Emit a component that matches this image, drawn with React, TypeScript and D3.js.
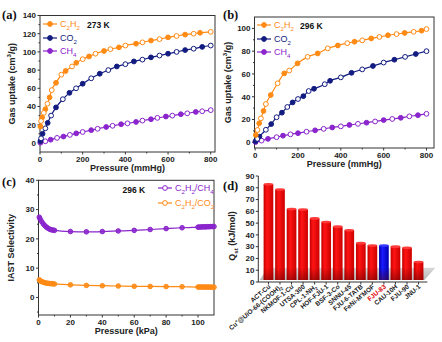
import React from 'react';
import * as d3 from 'd3';

const FONT = "'Liberation Sans', Arial, sans-serif";
const SERIF = "'Liberation Serif', 'Times New Roman', serif";
const ORANGE = '#ff8a14';
const NAVY = '#121c80';
const PURPLE = '#8a24cc';
const AXIS = '#333';

// ---------- Panel (a) 273 K ----------
const a_C2H2_adsP = [2, 10, 25, 45, 75, 120, 170, 230, 300, 370, 450, 520, 600, 680, 750];
const a_C2H2_adsV = [18, 28, 37, 50, 66, 79, 88, 95, 101, 105, 109, 112.5, 116, 119, 121];
const a_C2H2_desP = [5, 18, 35, 55, 100, 150, 200, 260, 330, 400, 480, 560, 640, 720, 800];
const a_C2H2_desV = [24, 33, 43, 58, 75, 84, 92, 98, 103, 107, 110.5, 114, 117.5, 120, 122];
const a_CO2_adsP = [2, 12, 36, 75, 138, 200, 280, 360, 440, 520, 600, 680, 760];
const a_CO2_adsV = [2, 10, 22, 39, 55, 65, 76, 84, 89.5, 94, 98, 102, 105.5];
const a_CO2_desP = [5, 25, 52, 107, 169, 240, 320, 400, 480, 560, 640, 720, 800];
const a_CO2_desV = [5, 16, 30, 48, 60, 71, 80, 86.5, 91.5, 96, 100, 103.5, 107];
const a_CH4_adsP = [2, 50, 110, 170, 240, 310, 380, 450, 520, 590, 660, 730];
const a_CH4_adsV = [0.2, 3.5, 7, 10.5, 14, 17.5, 20.5, 23, 26, 29, 31.5, 34];
const a_CH4_desP = [25, 80, 140, 200, 270, 340, 410, 480, 550, 620, 690, 760, 800];
const a_CH4_desV = [1.8, 5.5, 8.8, 12, 15.5, 18.8, 21.5, 24.5, 27.5, 30, 32.5, 34.8, 36];

// ---------- Panel (b) 296 K ----------
const b_C2H2_adsP = [3, 19, 39, 73, 136, 198, 292, 386, 464, 542, 620, 698, 777];
const b_C2H2_adsV = [6.4, 16.7, 27.5, 41.5, 60.5, 69.3, 78, 85, 88.3, 91.2, 94, 96, 98];
const b_C2H2_desP = [11, 27, 50, 105, 159, 245, 339, 430, 500, 580, 660, 740, 800];
const b_C2H2_desV = [10.8, 21, 33.6, 51.8, 63, 75, 82.5, 87, 89.5, 92.5, 95, 97, 99.4];
const b_CO2_adsP = [2, 20, 75, 125, 175, 225, 275, 350, 450, 550, 650, 750];
const b_CO2_adsV = [1, 5, 16, 26, 35, 40.5, 47, 54, 61, 67, 72.5, 77.5];
const b_CO2_desP = [10, 50, 100, 150, 200, 250, 325, 400, 500, 600, 700, 800];
const b_CO2_desV = [3, 11, 22, 31, 38, 45, 51, 57, 64, 70, 75, 80];
const b_CH4_adsP = [2, 60, 130, 200, 280, 360, 440, 520, 600, 680, 760];
const b_CH4_adsV = [0.2, 3, 5.8, 8, 10.5, 13, 15.2, 17.2, 19.5, 21.5, 23.8];
const b_CH4_desP = [30, 100, 165, 240, 320, 400, 480, 560, 640, 720, 800];
const b_CH4_desV = [1.5, 4.5, 7, 9.3, 11.8, 14, 16.2, 18.3, 20.5, 22.8, 25];

// ---------- Panel (c) IAST ----------
const c_P = [0.5, 1, 2, 3, 4, 5, 6, 7, 8, 9, 10, 20, 30, 40, 50, 60, 70, 80, 90, 100, 101, 102, 103, 104, 105, 106, 107, 108, 109, 110];
const c_CH4 = [27.4, 26.8, 25.9, 25.1, 24.5, 24.0, 23.6, 23.3, 23.1, 23.0, 22.9, 22.5, 22.4, 22.5, 22.7, 22.9, 23.2, 23.5, 23.8, 24.0, 24.05, 24.05, 24.1, 24.1, 24.1, 24.15, 24.15, 24.2, 24.2, 24.2];
const c_CO2 = [6.0, 5.7, 5.4, 5.2, 5.0, 4.9, 4.8, 4.75, 4.7, 4.65, 4.6, 4.3, 4.1, 4.0, 3.9, 3.8, 3.75, 3.7, 3.65, 3.55, 3.55, 3.55, 3.54, 3.54, 3.53, 3.53, 3.52, 3.52, 3.51, 3.5];

// ---------- Panel (d) Qst ----------
const d_names = ['ACT-Cu', 'Cu^+@UiO-66-(COOH)_2', 'NKMOF-1-Cu', 'UTSA-300', 'CPL-1-NH_2', 'HOF-FJU-1', 'BSF-3-Co', 'SNNU-45', 'FJU-6-TATB', "FeNi-M'MOF", 'FJU-83', 'CAU-10H', 'FJU-90', 'JNU-1'];
const d_values = [83, 78.5, 62, 61.5, 54, 51, 47, 44, 33, 31, 31, 30, 29, 17];
const d_highlight = 'FJU-83';

const aTicksX = [0, 200, 400, 600, 800];
const aTicksY = [0, 20, 40, 60, 80, 100, 120, 140];
const bTicksY = [0, 20, 40, 60, 80, 100];
const cTicksX = [0, 20, 40, 60, 80, 100];
const cTicksY = [0, 10, 20, 30, 40];
const dTicksY = [0, 10, 20, 30, 40, 50, 60, 70, 80, 90];

function Rich({ s, fs }: { s: string; fs: number }) {
  const segs: { t: string; m: number }[] = [];
  let buf = '';
  for (let i = 0; i < s.length; i++) {
    const c = s[i];
    if ((c === '_' || c === '^') && i + 1 < s.length) {
      if (buf) segs.push({ t: buf, m: 0 });
      buf = '';
      let t = '';
      if (s[i + 1] === '{') {
        let j = i + 2;
        while (j < s.length && s[j] !== '}') { t += s[j]; j++; }
        i = j;
      } else { t = s[i + 1]; i++; }
      segs.push({ t, m: c === '_' ? 1 : -1 });
    } else buf += c;
  }
  if (buf) segs.push({ t: buf, m: 0 });
  let cur = 0;
  return (
    <>
      {segs.map((g, k) => {
        const target = g.m === 1 ? 0.3 * fs : g.m === -1 ? -0.4 * fs : 0;
        const dy = target - cur;
        cur = target;
        return (
          <tspan key={k} dy={dy !== 0 ? dy : undefined} fontSize={g.m ? fs * 0.68 : undefined}>
            {g.t}
          </tspan>
        );
      })}
    </>
  );
}

function Frame({ x, y, xt, yt, xMinor, yMinor, xTitle, yTitle, yTitleX }: any) {
  const [l, r] = x.range();
  const [b, t] = y.range();
  return (
    <g fontFamily={FONT} fontWeight="bold" fill="#222">
      <rect x={l} y={t} width={r - l} height={b - t} fill="none" stroke={AXIS} strokeWidth={1} />
      {yt.map((v: number) => (
        <g key={'y' + v}>
          <line x1={l - 2.5} x2={l} y1={y(v)} y2={y(v)} stroke={AXIS} />
          <text x={l - 4} y={y(v)} dy="0.35em" textAnchor="end" fontSize={8}>{v}</text>
        </g>
      ))}
      {yMinor.map((v: number) => (
        <line key={'ym' + v} x1={l - 1.5} x2={l} y1={y(v)} y2={y(v)} stroke={AXIS} />
      ))}
      {xt.map((v: number) => (
        <g key={'x' + v}>
          <line x1={x(v)} x2={x(v)} y1={b} y2={b + 2.5} stroke={AXIS} />
          <text x={x(v)} y={b + 10} textAnchor="middle" fontSize={8}>{v}</text>
        </g>
      ))}
      {xMinor.map((v: number) => (
        <line key={'xm' + v} x1={x(v)} x2={x(v)} y1={b} y2={b + 1.5} stroke={AXIS} />
      ))}
      <text x={(l + r) / 2} y={b + 19} textAnchor="middle" fontSize={9}>{xTitle}</text>
      <text transform={`translate(${yTitleX},${(t + b) / 2}) rotate(-90)`} textAnchor="middle" fontSize={9}>
        <Rich s={yTitle} fs={9} />
      </text>
    </g>
  );
}

function Series({ x, y, ap, av, dp, dv, color, r = 2.4 }: any) {
  const pts = ap.map((p: number, i: number) => [p, av[i]]).concat(dp.map((p: number, i: number) => [p, dv[i]]));
  pts.sort((m: number[], n: number[]) => m[0] - n[0]);
  const line = d3.line<number[]>().x((d) => x(d[0])).y((d) => y(d[1])).curve(d3.curveMonotoneX);
  return (
    <g>
      <path d={line(pts) || ''} fill="none" stroke={color} strokeWidth={1.2} />
      {ap.map((p: number, i: number) => (
        <circle key={'a' + i} cx={x(p)} cy={y(av[i])} r={r} fill={color} stroke={color} strokeWidth={1} />
      ))}
      {dp.map((p: number, i: number) => (
        <circle key={'d' + i} cx={x(p)} cy={y(dv[i])} r={r} fill="#fff" stroke={color} strokeWidth={1} />
      ))}
    </g>
  );
}

function LegendItem({ x, y, color, label, half = true }: any) {
  return (
    <g>
      <line x1={x} x2={x + 14} y1={y} y2={y} stroke={color} strokeWidth={1.2} />
      <circle cx={x + 7} cy={y} r={2.4} fill={half ? color : '#fff'} stroke={color} strokeWidth={1} />
      <text x={x + 17} y={y} dy="0.35em" fontSize={9} fill={color} fontFamily={FONT}>
        <Rich s={label} fs={9} />
      </text>
    </g>
  );
}

export default function App() {
  const xA = d3.scaleLinear().domain([0, 820]).range([40, 215]);
  const yA = d3.scaleLinear().domain([-10, 140]).range([152, 15.5]);
  const xB = d3.scaleLinear().domain([-3, 835]).range([254.5, 434]);
  const yB = d3.scaleLinear().domain([-5, 110]).range([148, 17]);
  const xC = d3.scaleLinear().domain([0, 110]).range([38.5, 214]);
  const yC = d3.scaleLinear().domain([-6, 40]).range([315, 180.3]);
  const xD = d3.scaleBand<string>().domain(d_names).range([263.6, 423.4]).paddingInner(0.16);
  const yD = d3.scaleLinear().domain([0, 90]).range([282, 176]);

  const lineC = d3.line<number>().x((_, i) => xC(c_P[i])).y((d) => yC(d)).curve(d3.curveMonotoneX);

  const floorTop = yD(12);
  const floorBot = yD(0) - 2;
  const bw = xD.bandwidth();

  return (
    <svg width={442} height={342} style={{ display: 'block', position: 'absolute', left: 0, top: 0 }} fontFamily={FONT}>
      <defs>
        <linearGradient id="redG" x1="0" x2="1" y1="0" y2="0">
          <stop offset="0%" stopColor="#c40000" />
          <stop offset="35%" stopColor="#ff1414" />
          <stop offset="100%" stopColor="#cc0000" />
        </linearGradient>
        <linearGradient id="blueG" x1="0" x2="1" y1="0" y2="0">
          <stop offset="0%" stopColor="#0000a8" />
          <stop offset="35%" stopColor="#1a1aff" />
          <stop offset="100%" stopColor="#0000b0" />
        </linearGradient>
        <linearGradient id="shade" x1="0" x2="0" y1="0" y2="1">
          <stop offset="0%" stopColor="#500000" stopOpacity={0} />
          <stop offset="100%" stopColor="#500000" stopOpacity={0.45} />
        </linearGradient>
        <linearGradient id="floorG" x1="0" x2="0" y1="0" y2="1">
          <stop offset="0%" stopColor="#d8d8d8" />
          <stop offset="100%" stopColor="#b8b8b8" />
        </linearGradient>
      </defs>
      <rect x={0} y={0} width={442} height={342} fill="#fff" />

      {/* Panel a */}
      <Frame x={xA} y={yA} xt={aTicksX} yt={aTicksY} xMinor={[100, 300, 500, 700]} yMinor={[10, 30, 50, 70, 90, 110, 130]}
        xTitle="Pressure (mmHg)" yTitle="Gas uptake (cm^3/g)" yTitleX={15} />
      <Series x={xA} y={yA} ap={a_CH4_adsP} av={a_CH4_adsV} dp={a_CH4_desP} dv={a_CH4_desV} color={PURPLE} />
      <Series x={xA} y={yA} ap={a_CO2_adsP} av={a_CO2_adsV} dp={a_CO2_desP} dv={a_CO2_desV} color={NAVY} />
      <Series x={xA} y={yA} ap={a_C2H2_adsP} av={a_C2H2_adsV} dp={a_C2H2_desP} dv={a_C2H2_desV} color={ORANGE} />
      <LegendItem x={43} y={24} color={ORANGE} label="C_2H_2" />
      <LegendItem x={43} y={38} color={NAVY} label="CO_2" />
      <LegendItem x={43} y={51} color={PURPLE} label="CH_4" />
      <text x={87} y={27.5} fontSize={8.5} fontWeight="bold" fill="#111">273 K</text>
      <text x={2} y={19} fontFamily={SERIF} fontWeight="bold" fontSize={12.5} fill="#111">(a)</text>

      {/* Panel b */}
      <Frame x={xB} y={yB} xt={aTicksX} yt={bTicksY} xMinor={[100, 300, 500, 700]} yMinor={[10, 30, 50, 70, 90]}
        xTitle="Pressure (mmHg)" yTitle="Gas uptake (cm^3/g)" yTitleX={231} />
      <Series x={xB} y={yB} ap={b_CH4_adsP} av={b_CH4_adsV} dp={b_CH4_desP} dv={b_CH4_desV} color={PURPLE} />
      <Series x={xB} y={yB} ap={b_CO2_adsP} av={b_CO2_adsV} dp={b_CO2_desP} dv={b_CO2_desV} color={NAVY} />
      <Series x={xB} y={yB} ap={b_C2H2_adsP} av={b_C2H2_adsV} dp={b_C2H2_desP} dv={b_C2H2_desV} color={ORANGE} />
      <LegendItem x={257} y={25} color={ORANGE} label="C_2H_2" />
      <LegendItem x={257} y={39} color={NAVY} label="CO_2" />
      <LegendItem x={257} y={52} color={PURPLE} label="CH_4" />
      <text x={300} y={28.5} fontSize={8.5} fontWeight="bold" fill="#111">296 K</text>
      <text x={223} y={19} fontFamily={SERIF} fontWeight="bold" fontSize={12.5} fill="#111">(b)</text>

      {/* Panel c */}
      <Frame x={xC} y={yC} xt={cTicksX} yt={cTicksY} xMinor={[10, 30, 50, 70, 90]} yMinor={[-5, 5, 15, 25, 35]}
        xTitle="Pressure (kPa)" yTitle="IAST Selectivity" yTitleX={14} />
      <path d={lineC(c_CH4) || ''} fill="none" stroke={PURPLE} strokeWidth={1.2} />
      <path d={lineC(c_CO2) || ''} fill="none" stroke={ORANGE} strokeWidth={1.2} />
      {c_P.map((p, i) => (
        <g key={'c' + i}>
          <circle cx={xC(p)} cy={yC(c_CH4[i])} r={2.3} fill={PURPLE} fillOpacity={0.85} stroke={PURPLE} strokeWidth={1} />
          <circle cx={xC(p)} cy={yC(c_CO2[i])} r={2.3} fill={ORANGE} fillOpacity={0.85} stroke={ORANGE} strokeWidth={1} />
        </g>
      ))}
      <text x={122.5} y={193} fontSize={8.5} fontWeight="bold" fill="#111">296 K</text>
      <LegendItem x={158} y={188} color={PURPLE} label="C_2H_2/CH_4" half={false} />
      <LegendItem x={158} y={203} color={ORANGE} label="C_2H_2/CO_2" half={false} />
      <text x={2} y={186} fontFamily={SERIF} fontWeight="bold" fontSize={12.5} fill="#111">(c)</text>

      {/* Panel d */}
      <polygon
        points={`${xD.range()[0] - 4},${floorBot} ${xD.range()[0] + 4},${floorTop} ${xD.range()[1] + 12},${floorTop} ${xD.range()[1] + 1},${floorBot}`}
        fill="url(#floorG)" />
      {d_names.map((n, i) => {
        const x0 = xD(n) as number;
        const yt = yD(d_values[i]);
        const hl = n === d_highlight;
        return (
          <g key={n}>
            <rect x={x0} y={yt} width={bw} height={floorBot - yt} fill={hl ? 'url(#blueG)' : 'url(#redG)'} />
            <rect x={x0} y={floorTop} width={bw} height={floorBot - floorTop} fill="url(#shade)" />
            <ellipse cx={x0 + bw / 2} cy={yt} rx={bw / 2} ry={1.3} fill={hl ? '#3a3aff' : '#ff3a3a'} />
          </g>
        );
      })}
      <g fontFamily={FONT} fontWeight="bold" fill="#222">
        <line x1={258.3} x2={258.3} y1={yD(90)} y2={yD(0)} stroke={AXIS} />
        <line x1={258.3} x2={xD.range()[1] + 4} y1={yD(0)} y2={yD(0)} stroke={AXIS} />
        {dTicksY.map((v) => (
          <g key={'dy' + v}>
            <line x1={255.8} x2={258.3} y1={yD(v)} y2={yD(v)} stroke={AXIS} />
            <text x={254.5} y={yD(v)} dy="0.35em" textAnchor="end" fontSize={8}>{v}</text>
          </g>
        ))}
        {d_names.map((n) => {
          const cx = (xD(n) as number) + bw / 2;
          return (
            <g key={'dl' + n}>
              <line x1={cx} x2={cx} y1={yD(0)} y2={yD(0) + 2.5} stroke={AXIS} />
              <text transform={`translate(${cx + 2.5},${yD(0) + 5.5}) rotate(-40)`} textAnchor="end" fontSize={6.5}
                fill={n === d_highlight ? '#e00000' : '#222'}>
                <Rich s={n} fs={6.5} />
              </text>
            </g>
          );
        })}
        <text transform={`translate(235,236) rotate(-90)`} textAnchor="middle" fontSize={9}>
          <Rich s="Q_{st} (kJ/mol)" fs={9} />
        </text>
      </g>
      <text x={223} y={190} fontFamily={SERIF} fontWeight="bold" fontSize={12.5} fill="#111">(d)</text>
    </svg>
  );
}
